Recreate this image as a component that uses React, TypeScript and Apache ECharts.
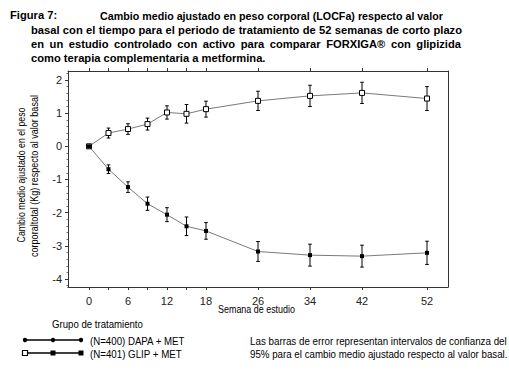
import React, { useEffect, useRef } from "react";
import * as echarts from "echarts";

const FONT = '"Liberation Sans", Arial, sans-serif';

// Data
const weeks = [0, 3, 6, 9, 12, 15, 18, 26, 34, 42, 52];
const glipMean = [0, 0.40, 0.52, 0.67, 1.02, 0.98, 1.12, 1.37, 1.52, 1.61, 1.44];
const glipErr = [0, 0.15, 0.16, 0.18, 0.20, 0.28, 0.24, 0.29, 0.32, 0.32, 0.36];
const dapaMean = [0, -0.69, -1.23, -1.73, -2.06, -2.41, -2.55, -3.17, -3.28, -3.31, -3.21];
const dapaErr = [0, 0.13, 0.16, 0.20, 0.21, 0.28, 0.25, 0.30, 0.33, 0.33, 0.35];

// Axis ticks / labels
const xLabelWeeks = [0, 6, 12, 18, 26, 34, 42, 52];
const xTickWeeks = [0, 3, 6, 9, 12, 15, 18, 26, 34, 42, 52];
const yTicks = [-4, -3, -2, -1, 0, 1, 2];
const yMinorTicks = [
  -4.2, -3.8, -3.6, -3.4, -3.2, -2.8, -2.6, -2.4, -2.2, -1.8, -1.6, -1.4, -1.2,
  -0.8, -0.6, -0.4, -0.2, 0.2, 0.4, 0.6, 0.8, 1.2, 1.4, 1.6, 1.8, 2.2,
];

// Texts
const titleFig = "Figura 7:";
const titleLines = [
  "Cambio medio ajustado en peso corporal (LOCFa) respecto al valor",
  "basal con el tiempo para el periodo de tratamiento de 52 semanas de corto plazo",
  "en un estudio controlado con activo para comparar FORXIGA® con glipizida",
  "como terapia complementaria a metformina.",
];
const yNameLines = [
  "Cambio medio ajustado en el peso",
  "corporaltotal (Kg) respecto al valor basal",
];
const xName = "Semana de estudio";
const legendTitle = "Grupo de tratamiento";
const legendNames = ["(N=400) DAPA + MET", "(N=401) GLIP + MET"];
const footnote = [
  "Las barras de error representan intervalos de confianza del",
  "95% para el cambio medio ajustado respecto al valor basal.",
];

const X_MIN = -3.23;
const X_MAX = 55.23;
const Y_MIN = -4.24;
const Y_MAX = 2.27;

let measureCtx: CanvasRenderingContext2D | null = null;
function measure(text: string, size: number, weight: string) {
  if (!measureCtx) measureCtx = document.createElement("canvas").getContext("2d");
  if (!measureCtx) return text.length * size * 0.5;
  measureCtx.font = `${weight} ${size}px ${FONT}`;
  return measureCtx.measureText(text).width;
}

function txt(
  text: string,
  x: number,
  y: number,
  size: number,
  weight: string,
  scaleX: number,
  align = "left",
  rotation = 0
) {
  return {
    type: "text",
    x,
    y,
    scaleX,
    rotation,
    style: {
      text,
      fontSize: size,
      fontWeight: weight,
      fontFamily: FONT,
      fill: "#000",
      align,
      verticalAlign: "middle",
      textAlign: align,
      textVerticalAlign: "middle",
    },
  };
}

function fit(text: string, x: number, y: number, size: number, weight: string, width: number, align = "left", rotation = 0) {
  const w = measure(text, size, weight);
  return txt(text, x, y, size, weight, width / w, align, rotation);
}

function justify(line: string, x0: number, x1: number, y: number, size: number, weight: string, s: number) {
  const words = line.split(" ");
  const widths = words.map((w) => measure(w, size, weight) * s);
  const total = widths.reduce((a, b) => a + b, 0);
  const gap = (x1 - x0 - total) / (words.length - 1);
  const out: any[] = [];
  let x = x0;
  words.forEach((w, i) => {
    out.push(txt(w, x, y, size, weight, s));
    x += widths[i] + gap;
  });
  return out;
}

function errorSeries(mean: number[], err: number[]) {
  return {
    type: "custom",
    xAxisIndex: 0,
    yAxisIndex: 0,
    z: 1,
    encode: { x: 0, y: [1, 2] },
    data: weeks.map((w, i) => [w, mean[i] - err[i], mean[i] + err[i]]),
    renderItem: (_params: any, api: any) => {
      const x = api.value(0);
      const lo = api.value(1);
      const hi = api.value(2);
      if (hi - lo <= 0) return { type: "group", children: [] };
      const p1 = api.coord([x, lo]);
      const p2 = api.coord([x, hi]);
      const c = 1.8;
      const st = { stroke: "#000", lineWidth: 1 };
      return {
        type: "group",
        children: [
          { type: "line", shape: { x1: p1[0], y1: p1[1], x2: p2[0], y2: p2[1] }, style: st },
          { type: "line", shape: { x1: p1[0] - c, y1: p1[1], x2: p1[0] + c, y2: p1[1] }, style: st },
          { type: "line", shape: { x1: p2[0] - c, y1: p2[1], x2: p2[0] + c, y2: p2[1] }, style: st },
        ],
      };
    },
  };
}

export default function App() {
  const ref = useRef<HTMLDivElement>(null);

  useEffect(() => {
    if (!ref.current) return;
    const chart = echarts.init(ref.current, null, { renderer: "svg" });

    const titleSize = 11;
    const s = 428 / measure(titleLines[1], titleSize, "bold");
    const graphics: any[] = [];
    graphics.push(txt(titleFig, 10, 15.5, titleSize, "bold", s));
    graphics.push(fit(titleLines[0], 100, 15.5, titleSize, "bold", 343));
    graphics.push(...justify(titleLines[1], 31, 462, 29.8, titleSize, "bold", s));
    graphics.push(...justify(titleLines[2], 31, 461, 44.2, titleSize, "bold", s));
    graphics.push(txt(titleLines[3], 31, 58.2, titleSize, "bold", s));

    // y-axis name (rotated)
    graphics.push(fit(yNameLines[0], 21, 175, 10, "normal", 135, "center", Math.PI / 2));
    graphics.push(fit(yNameLines[1], 34, 176, 10, "normal", 162, "center", Math.PI / 2));

    // x-axis name
    graphics.push(fit(xName, 256.5, 309, 10, "normal", 77, "center"));

    // legend
    graphics.push(fit(legendTitle, 52, 324.5, 11, "normal", 91));
    const rowY = [340, 353];
    const markerX = [25, 53, 81];
    rowY.forEach((y, r) => {
      graphics.push({
        type: "line",
        shape: { x1: 23, y1: y, x2: 82, y2: y },
        style: { stroke: "#000", lineWidth: 1.6 },
      });
      markerX.forEach((mx, k) => {
        if (r === 0) {
          graphics.push({ type: "circle", shape: { cx: mx, cy: y, r: 2.2 }, style: { fill: "#000" } });
        } else {
          graphics.push({
            type: "rect",
            shape: { x: mx - 2.5, y: y - 2.5, width: 5, height: 5 },
            style: k === 0 ? { fill: "#fff", stroke: "#000", lineWidth: 1.2 } : { fill: "#000" },
          });
        }
      });
    });
    graphics.push(fit(legendNames[0], 90, 341, 11, "normal", 95));
    graphics.push(fit(legendNames[1], 90, 354, 11, "normal", 92));

    // footnote
    graphics.push(fit(footnote[0], 250, 341, 11, "normal", 257));
    graphics.push(fit(footnote[1], 250, 354, 11, "normal", 258));

    const axisColor = "#333";
    const commonX = {
      type: "value",
      min: X_MIN,
      max: X_MAX,
      splitLine: { show: false },
      axisLine: { show: true, onZero: false, lineStyle: { color: axisColor, width: 1 } },
    };
    const commonY = {
      type: "value",
      min: Y_MIN,
      max: Y_MAX,
      splitLine: { show: false },
    };

    chart.setOption({
      animation: false,
      backgroundColor: "#fff",
      grid: { left: 68, right: 61, top: 71, bottom: 86, containLabel: false },
      xAxis: [
        {
          ...commonX,
          position: "bottom",
          axisTick: { show: true, customValues: xTickWeeks, length: 3, lineStyle: { color: axisColor } },
          axisLabel: {
            customValues: xLabelWeeks,
            margin: 8,
            fontSize: 11,
            color: "#222",
            fontFamily: FONT,
          },
        },
        {
          ...commonX,
          position: "top",
          axisTick: { show: true, customValues: xTickWeeks, length: 3, lineStyle: { color: axisColor } },
          axisLabel: { show: false },
        },
      ],
      yAxis: [
        {
          ...commonY,
          position: "left",
          axisLine: { show: true, onZero: false, lineStyle: { color: axisColor, width: 1 } },
          axisTick: { show: true, customValues: yTicks, length: 3, lineStyle: { color: axisColor } },
          axisLabel: {
            customValues: yTicks,
            margin: 6,
            fontSize: 11,
            color: "#222",
            fontFamily: FONT,
          },
        },
        {
          ...commonY,
          position: "right",
          axisLine: { show: true, onZero: false, lineStyle: { color: axisColor, width: 1 } },
          axisTick: { show: false },
          axisLabel: { show: false },
        },
        {
          ...commonY,
          position: "left",
          axisLine: { show: false, onZero: false },
          axisTick: { show: true, customValues: yMinorTicks, length: 1.5, lineStyle: { color: "#777" } },
          axisLabel: { show: false },
        },
      ],
      series: [
        errorSeries(glipMean, glipErr),
        errorSeries(dapaMean, dapaErr),
        {
          type: "line",
          name: legendNames[1],
          xAxisIndex: 0,
          yAxisIndex: 0,
          z: 2,
          data: weeks.map((w, i) => [w, glipMean[i]]),
          symbol: "rect",
          symbolSize: 5,
          itemStyle: { color: "#fff", borderColor: "#000", borderWidth: 1 },
          lineStyle: { color: "#7a7a7a", width: 1 },
        },
        {
          type: "line",
          name: legendNames[0],
          xAxisIndex: 0,
          yAxisIndex: 0,
          z: 2,
          data: weeks.map((w, i) => [w, dapaMean[i]]),
          symbol: "rect",
          symbolSize: 4,
          itemStyle: { color: "#000", borderColor: "#000", borderWidth: 0 },
          lineStyle: { color: "#7a7a7a", width: 1 },
        },
      ],
      graphic: graphics,
    });

    return () => chart.dispose();
  }, []);

  return (
    <div
      ref={ref}
      style={{ position: "fixed", left: 0, top: 0, width: 509, height: 373, background: "#fff" }}
    />
  );
}
